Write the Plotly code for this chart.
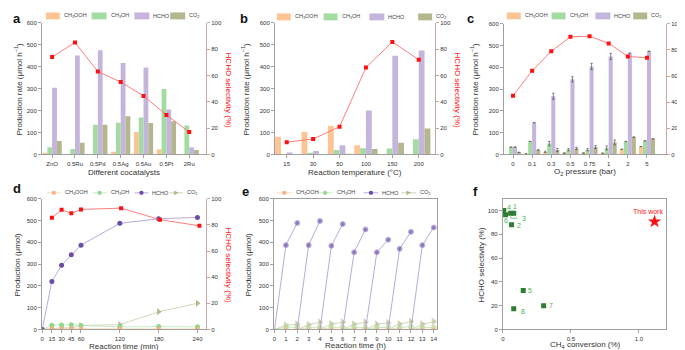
import plotly.graph_objects as go

# ---------------- DATA ----------------
catalysts = ["ZnO", "0.5Ru", "0.5Pd", "0.5Ag", "0.5Au", "0.5Pt", "2Ru"]
a_ch3ooh = [7, 0, 0, 12, 103, 24, 0]
a_ch3oh = [33, 25, 135, 145, 169, 298, 132]
a_hcho = [304, 451, 475, 417, 396, 205, 33]
a_co2 = [61, 54, 135, 174, 144, 151, 21]
a_sel = [74, 85, 63, 55, 44.5, 30, 17]

temps = ["15", "30", "50", "100", "150", "200"]
b_ch3ooh = [81, 103, 130, 42, 0, 0]
b_ch3oh = [0, 6, 21, 29, 27, 69]
b_hcho = [9, 16, 42, 200, 450, 474]
b_co2 = [0, 0, 3, 25, 54, 118]
b_sel = [9.3, 11.8, 21, 66, 85.5, 72]

pressures = ["0", "0.1", "0.3", "0.5", "0.75", "1", "2", "5"]
c_ch3ooh = [0, 3, 12, 6, 6, 5, 24, 36]
c_ch3oh = [34, 60, 50, 22, 22, 30, 60, 63]
c_hcho = [34, 146, 267, 345, 404, 450, 465, 474]
c_co2 = [10, 21, 21, 28, 34, 55, 80, 72]
c_sel = [45, 64, 79, 90, 90.5, 85, 75, 74]
c_ch3ooh_err = [None, None, 3, 2, 2, 2, None, None]
c_ch3oh_err = [None, None, 10, 5, 5, 9, None, None]
c_hcho_err = [None, None, 14, 12, 14, 14, None, None]
c_co2_err = [None, None, 7, 5, 7, 11, None, None]

d_time = [0, 15, 30, 45, 60, 120, 180, 240]
d_ch3ooh = [0, 3, 3, 3, 3, 2, 2, 2]
d_ch3oh = [0, 19, 20, 22, 18, 12, 13, 12]
d_hcho = [0, 220, 295, 343, 387, 487, 508, 514]
d_co2 = [0, 4, 7, 7, 18, 22, 81, 120]
d_sel_time = [15, 30, 45, 60, 122, 182, 243]
d_sel = [85.5, 91.5, 88.8, 91.8, 92.8, 84, 79.3]

e_cycle_start = [0, 2, 4, 6, 8, 10, 12]
e_hcho_1h = [387, 387, 384, 354, 354, 370, 387]
e_hcho_2h = [489, 498, 484, 459, 412, 448, 468]
e_co2_1h = [19, 22, 25, 24, 24, 25, 24]
e_co2_2h = [24, 33, 33, 33, 30, 36, 36]
e_ch3oh_1h = [10, 9, 9, 9, 9, 9, 9]
e_ch3oh_2h = [10, 10, 10, 8, 9, 12, 9]
e_ch3ooh_1h = [2, 1, 1, 1, 1, 1, 1]
e_ch3ooh_2h = [1, 1, 1, 1, 1, 1, 1]

f_labels = ["1", "2", "3", "4", "5", "6", "7", "8"]
f_conv = [0.08, 0.064, 0.057, 0.007, 0.15, 0.02, 0.30, 0.08]
f_sel = [97.8, 88.2, 97.8, 100, 32.8, 96.5, 20, 17.4]
this_work_conv = [1.115]
this_work_sel = [90.8]

# ---------------- STYLE ----------------
W, H = 685, 350
FONT = "Liberation Sans"
GREY = "#a0a0a0"
RAXIS = "#c8a8a8"
TXT = "#333333"
C_OOH, C_OH, C_HCHO, C_CO2 = "#fcc393", "#a3dba0", "#c5b4db", "#b4b68e"
M_OOH, M_OH, M_HCHO, M_CO2 = "#f7b07c", "#93d68f", "#6a4ea6", "#b3b78f"
L_OOH, L_OH, L_HCHO, L_CO2 = "#fbd0ad", "#b9e6b5", "#a794d2", "#c8cbaa"
RED, RED_L = "#ff1010", "#ff6e6e"
F_DARK, F_LAB = "#2e7d32", "#4caf50"
TITLE = 8
LEGF = 5.5


def px(x):
    return x / W


def py(y):
    return 1 - y / H


def ax(**kw):
    base = dict(showline=True, linecolor=GREY, linewidth=0.8, ticks="outside",
                ticklen=3, tickwidth=0.8, tickcolor=GREY, showgrid=False,
                zeroline=False, tickfont=dict(size=6, color=TXT, family=FONT),
                fixedrange=True)
    base.update(kw)
    return base


fig = go.Figure()

# ---------------- BAR PANELS ----------------
def bar_panel(cats, series, w, xa, ya, errs=None):
    cols = [C_OOH, C_OH, C_HCHO, C_CO2]
    for i, vals in enumerate(series):
        kw = {}
        if errs is not None and errs[i] is not None:
            kw["error_y"] = dict(type="data", array=errs[i], visible=True,
                                 color="#555555", thickness=0.7, width=1.2)
        fig.add_trace(go.Bar(x=cats, y=vals, xaxis=xa, yaxis=ya, width=w,
                             offset=-2 * w + i * w, marker_color=cols[i],
                             marker_line_width=0, **kw))


def sel_trace(x, y, xa, ya):
    fig.add_trace(go.Scatter(x=x, y=y, xaxis=xa, yaxis=ya, mode="lines+markers",
                             line=dict(color=RED_L, width=0.9),
                             marker=dict(symbol="square", size=4, color=RED)))


bar_panel(catalysts, [a_ch3ooh, a_ch3oh, a_hcho, a_co2], 0.21, "x", "y")
sel_trace(catalysts, a_sel, "x", "y7")
bar_panel(temps, [b_ch3ooh, b_ch3oh, b_hcho, b_co2], 0.22, "x2", "y2")
sel_trace(temps, b_sel, "x2", "y8")
bar_panel(pressures, [c_ch3ooh, c_ch3oh, c_hcho, c_co2], 0.21, "x3", "y3",
          errs=[c_ch3ooh_err, c_ch3oh_err, c_hcho_err, c_co2_err])
sel_trace(pressures, c_sel, "x3", "y9")

# ---------------- LINE PANEL d ----------------
def line_trace(x, y, xa, ya, mcol, lcol, sym, size):
    fig.add_trace(go.Scatter(x=x, y=y, xaxis=xa, yaxis=ya, mode="lines+markers",
                             connectgaps=False,
                             line=dict(color=lcol, width=0.8),
                             marker=dict(symbol=sym, size=size, color=mcol)))


line_trace(d_time, d_co2, "x4", "y4", M_CO2, L_CO2, "triangle-right", 6)
line_trace(d_time, d_ch3oh, "x4", "y4", M_OH, L_OH, "circle", 5)
line_trace(d_time, d_ch3ooh, "x4", "y4", M_OOH, L_OOH, "square", 4)
line_trace(d_time, d_hcho, "x4", "y4", M_HCHO, L_HCHO, "circle", 5)
sel_trace(d_sel_time, d_sel, "x4", "y10")

# ---------------- LINE PANEL e ----------------
def cycles(v1, v2, sz):
    xs, ys, sizes = [], [], []
    for s, a, b in zip(e_cycle_start, v1, v2):
        xs += [s, s + 1, s + 2, None]
        ys += [0, a, b, None]
        sizes += [0, sz, sz, 0]
    return xs, ys, sizes


for v1, v2, mc, lc, sym, sz in [
    (e_co2_1h, e_co2_2h, M_CO2, L_CO2, "triangle-right", 6),
    (e_ch3oh_1h, e_ch3oh_2h, M_OH, L_OH, "circle", 5),
    (e_ch3ooh_1h, e_ch3ooh_2h, M_OOH, L_OOH, "square", 4),
    (e_hcho_1h, e_hcho_2h, M_HCHO, L_HCHO, "circle", 5),
]:
    xs, ys, sizes = cycles(v1, v2, sz)
    line_trace(xs, ys, "x5", "y5", mc, lc, sym, sizes)

# ---------------- PANEL f ----------------
fig.add_trace(go.Scatter(x=f_conv, y=f_sel, xaxis="x6", yaxis="y6", mode="markers",
                         marker=dict(symbol="square", size=5, color=F_DARK)))
fig.add_trace(go.Scatter(x=this_work_conv, y=this_work_sel, xaxis="x6", yaxis="y6",
                         mode="markers", marker=dict(symbol="star", size=10, color=RED)))

# ---------------- AXES ----------------
top_y = [py(146), py(12)]
bot_y = [py(324), py(191)]
sel_ax = dict(range=[0, 100], tickvals=[0, 20, 40, 60, 80, 100], side="right",
              linecolor=RAXIS, tickcolor=RAXIS)
fig.update_layout(
    xaxis=ax(domain=[px(32), px(197)], anchor="y", type="category", range=[-0.45, 6.74]),
    yaxis=ax(domain=top_y, anchor="x", range=[0, 600], dtick=100),
    yaxis7=ax(overlaying="y", anchor="x", **sel_ax),
    xaxis2=ax(domain=[px(266), px(427)], anchor="y2", type="category", range=[-0.45, 5.62]),
    yaxis2=ax(domain=top_y, anchor="x2", range=[0, 600], dtick=100),
    yaxis8=ax(overlaying="y2", anchor="x2", **sel_ax),
    xaxis3=ax(domain=[px(496), px(659)], anchor="y3", type="category", range=[-0.48, 8.0]),
    yaxis3=ax(domain=[py(146), py(13)], anchor="x3", range=[0, 600], dtick=100),
    yaxis9=ax(overlaying="y3", anchor="x3", **sel_ax),
    xaxis4=ax(domain=[px(32), px(197)], anchor="y4", range=[-0.5, 253.4], tickvals=d_time),
    yaxis4=ax(domain=bot_y, anchor="x4", range=[0, 600], dtick=100),
    yaxis10=ax(overlaying="y4", anchor="x4", **sel_ax),
    xaxis5=ax(domain=[px(265), px(429)], anchor="y5", range=[-0.06, 14.3], dtick=1, mirror=True),
    yaxis5=ax(domain=bot_y, anchor="x5", range=[0, 600], dtick=100, mirror=True),
    xaxis6=ax(domain=[px(495), px(659)], anchor="y6", range=[0, 1.2], tickvals=[0, 0.5, 1.0],
              ticktext=["0", "0.5", "1.0"], mirror=True),
    yaxis6=ax(domain=bot_y, anchor="x6", range=[0, 110], tickvals=[0, 20, 40, 60, 80, 100],
              mirror=True),
)

# ---------------- TEXT ----------------
ann = []
shapes = []


def text(x, y, s, size=TITLE, color=TXT, angle=0, xanchor="center"):
    ann.append(dict(x=px(x), y=py(y), xref="paper", yref="paper", text=s, showarrow=False,
                    textangle=angle, xanchor=xanchor, yanchor="middle", borderpad=0,
                    font=dict(family=FONT, size=size, color=color)))


for lx, ly, t in [(2, 8, "a"), (230, 8, "b"), (458, 8, "c"),
                  (2, 181, "d"), (232, 184, "e"), (464, 184, "f")]:
    text(lx, ly, "<b>%s</b>" % t, size=13, color="#111", xanchor="left")

RATE = "Production rate (μmol h<sup>−1</sup>)"
PROD = "Production (μmol)"
SEL = "HCHO selectivity (%)"
text(8, 79, RATE, angle=-90)
text(236, 79, RATE, angle=-90)
text(466, 79, RATE, angle=-90)
text(8, 258, PROD, angle=-90)
text(240, 258, PROD, angle=-90)
text(474, 258, SEL, angle=-90)
for xx, yy, sz in [(219, 80, 8), (449, 80, 8), (675, 80, 7.5), (219, 258, 8)]:
    text(xx, yy, SEL, size=sz, color=RED, angle=90)
text(115, 164, "Different cocatalysts")
text(347, 164, "Reaction temperature (°C)")
text(578, 164, "O<sub>2</sub> pressure (bar)")
text(115, 341, "Reaction time (min)")
text(347, 340, "Reaction time (h)")
text(578, 340, "CH<sub>4</sub> conversion (%)")

LEG = ["CH<sub>3</sub>OOH", "CH<sub>3</sub>OH", "HCHO", "CO<sub>2</sub>"]


def bar_legend(y, xs):
    cols = [C_OOH, C_OH, C_HCHO, C_CO2]
    for (x0, x1), c, lab in zip(xs, cols, LEG):
        shapes.append(dict(type="rect", xref="paper", yref="paper", x0=px(x0), x1=px(x1),
                           y0=py(y + 3.5), y1=py(y - 3.5), fillcolor=c, line=dict(width=0)))
        text(x1 + 3, y, lab, size=LEGF, color="#444", xanchor="left")


bar_legend(5, [(36, 50), (82, 97), (125, 140), (161, 176)])
bar_legend(6, [(268, 282), (315, 329), (361, 376), (410, 424)])
bar_legend(5, [(499, 513), (544, 558), (588, 603), (626, 640)])


def line_legend(y, xs):
    spec = [(M_OOH, L_OOH, "square"), (M_OH, L_OH, "circle"),
            (M_HCHO, L_HCHO, "circle"), (M_CO2, L_CO2, "tri")]
    for (x0, x1), (mc, lc, sym), lab in zip(xs, spec, LEG):
        shapes.append(dict(type="line", xref="paper", yref="paper", x0=px(x0), x1=px(x1),
                           y0=py(y), y1=py(y), line=dict(color=lc, width=0.8)))
        cx = (x0 + x1) / 2
        if sym == "circle":
            r = 2.2
            shapes.append(dict(type="circle", xref="paper", yref="paper", x0=px(cx - r),
                               x1=px(cx + r), y0=py(y + r), y1=py(y - r), fillcolor=mc,
                               line=dict(width=0)))
        elif sym == "square":
            r = 1.8
            shapes.append(dict(type="rect", xref="paper", yref="paper", x0=px(cx - r),
                               x1=px(cx + r), y0=py(y + r), y1=py(y - r), fillcolor=mc,
                               line=dict(width=0)))
        else:
            r = 2.4
            path = "M%f,%f L%f,%f L%f,%f Z" % (px(cx - r), py(y - r), px(cx + r), py(y),
                                              px(cx - r), py(y + r))
            shapes.append(dict(type="path", xref="paper", yref="paper", path=path,
                               fillcolor=mc, line=dict(width=0)))
        text(x1 + 3, y, lab, size=LEGF, color="#444", xanchor="left")


line_legend(185, [(37, 51), (83, 97), (125, 139), (160, 174)])
line_legend(185, [(268, 283), (309, 324), (355, 370), (393, 408)])

# panel f labels
f_offsets = {"1": (1, 7, "center"), "2": (2, -1, "left"), "3": (8, -5, "left"),
             "4": (0, 3, "left"), "5": (2, 0, "left"), "6": (0, -6, "center"),
             "7": (2, 0, "left"), "8": (4, -3, "left")}
for lab, xv, yv in zip(f_labels, f_conv, f_sel):
    dx, dy, xa = f_offsets[lab]
    ann.append(dict(x=xv, y=yv, xref="x6", yref="y6", text=lab, showarrow=False,
                    xanchor=xa, yanchor="middle", xshift=dx + (2 if xa == "left" else 0),
                    yshift=dy, borderpad=0, font=dict(family=FONT, size=7, color=F_LAB)))
    if lab == "3":
        shapes.append(dict(type="path", xref="x6", yref="y6", xsizemode="pixel",
                           ysizemode="pixel", xanchor=xv, yanchor=yv,
                           path="M0,-3 L0,-5 L7,-5", line=dict(color=F_LAB, width=0.7)))
ann.append(dict(x=this_work_conv[0], y=this_work_sel[0], xref="x6", yref="y6",
                text="This work", showarrow=False, xshift=-7, yshift=10, borderpad=0,
                font=dict(family=FONT, size=7, color=RED)))

fig.update_layout(
    width=W, height=H, margin=dict(l=0, r=0, t=0, b=0),
    paper_bgcolor="white", plot_bgcolor="white", showlegend=False, barmode="overlay",
    font=dict(family=FONT, size=6, color=TXT),
    annotations=ann, shapes=shapes,
)

fig.write_html("out.html")
